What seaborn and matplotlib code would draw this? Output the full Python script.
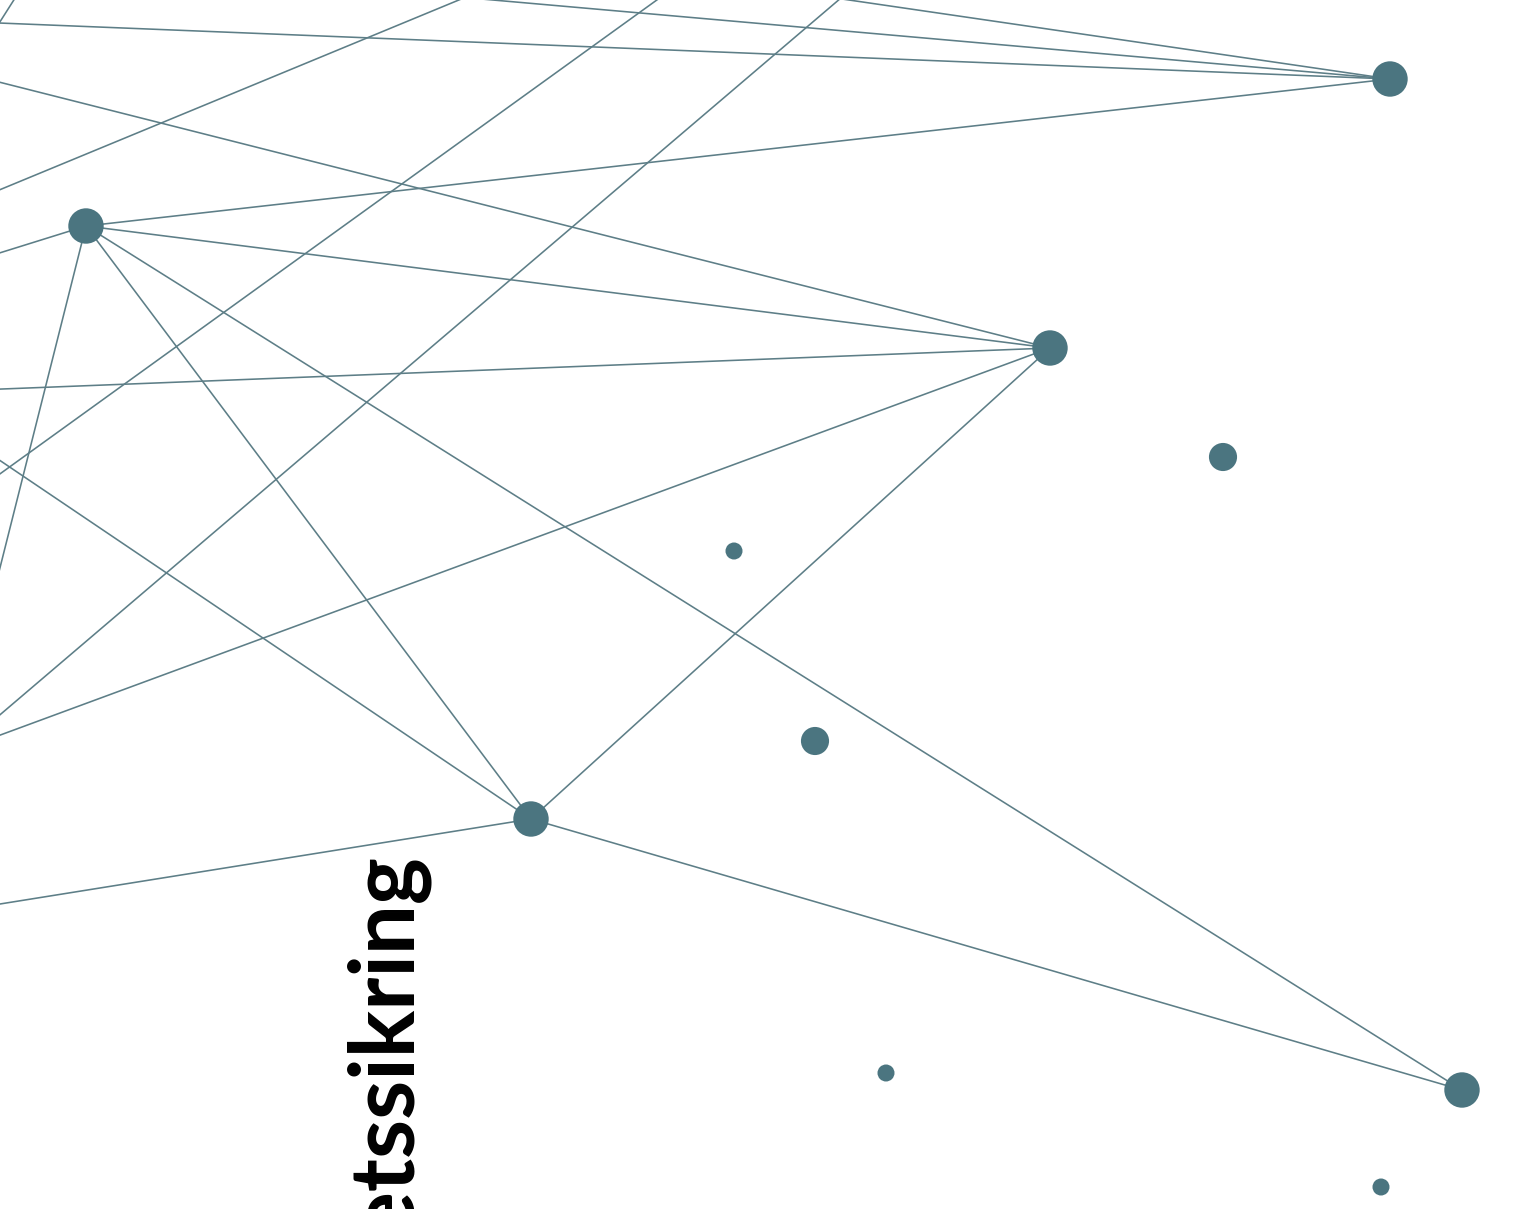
import numpy as np
import pandas as pd
import matplotlib
matplotlib.use("Agg")
import matplotlib.pyplot as plt
import seaborn as sns

# Nodes (pixel layout coords, y downwards); "o*" nodes sit outside the frame
node_names = ["A", "B", "C", "D", "E", "F", "G", "H", "I", "J",
              "o1", "o2", "o3", "o4", "o5", "o6", "o7", "o8", "o9",
              "o10", "o11", "o12", "o13", "o14", "o15", "o16", "o17"]
node_x = [1390, 86, 1050, 1223, 734, 815, 531, 1462, 886, 1381,
          -200, -200, 438, 909, -100, 604, -100, 740, -100,
          52, -100, -100, -100, -100, -100, -100, -100]
node_y = [79, 226, 348, 457, 551, 741, 819, 1090, 1073, 1187,
          15, -61, -60, -60, 800, -60, 231, -60, 546,
          -60, 179, 284, 965, 57, 393, 772, 920]
node_size = ["big", "big", "big", "mid", "small", "mid", "big", "big", "small", "small",
             "big", "big", "big", "big", "big", "big", "big", "big", "big",
             "big", "big", "big", "big", "big", "big", "big", "big"]

# edges as (from, to) pairs
edge_pairs = [
    ("B", "A"), ("B", "C"), ("B", "G"), ("B", "H"), ("C", "G"), ("G", "H"),
    ("o1", "A"), ("o2", "A"), ("o3", "A"),
    ("o12", "B"), ("o13", "B"),
    ("o14", "C"), ("o15", "C"), ("o16", "C"),
    ("o15", "G"), ("o17", "G"),
    ("o4", "o5"), ("o6", "o7"), ("o8", "o9"), ("o10", "o11"),
]

NODE_COL = "#4b7580"
LINE_COL = "#5d7e87"

pos = {n: (x, y) for n, x, y in zip(node_names, node_x, node_y)}
rows = []
for k, (a, b) in enumerate(edge_pairs):
    rows.append({"edge": k, "x": pos[a][0], "y": pos[a][1]})
    rows.append({"edge": k, "x": pos[b][0], "y": pos[b][1]})
edges = pd.DataFrame(rows)
nodes = pd.DataFrame({"name": node_names, "x": node_x, "y": node_y, "size": node_size})

sns.set_style("white")
fig = plt.figure(figsize=(15.36, 12.09), dpi=100)
ax = fig.add_axes([0, 0, 1, 1])

sns.lineplot(data=edges, x="x", y="y", units="edge", estimator=None, sort=False,
             color=LINE_COL, linewidth=1.15, ax=ax, zorder=1)
sns.scatterplot(data=nodes, x="x", y="y", size="size",
                sizes={"big": 650, "mid": 410, "small": 150},
                color=NODE_COL, edgecolor="none", linewidth=0, legend=False,
                ax=ax, zorder=3)

ax.text(407, 849, "Kvalitetssikring", rotation=90, rotation_mode="anchor",
        ha="right", va="baseline", fontsize=64, fontweight="bold",
        family=["Lato", "DejaVu Sans"], color="black", zorder=4)

ax.set_xlim(0, 1536)
ax.set_ylim(1209, 0)
ax.axis("off")

fig.savefig("out.png", dpi=100, facecolor="white")
